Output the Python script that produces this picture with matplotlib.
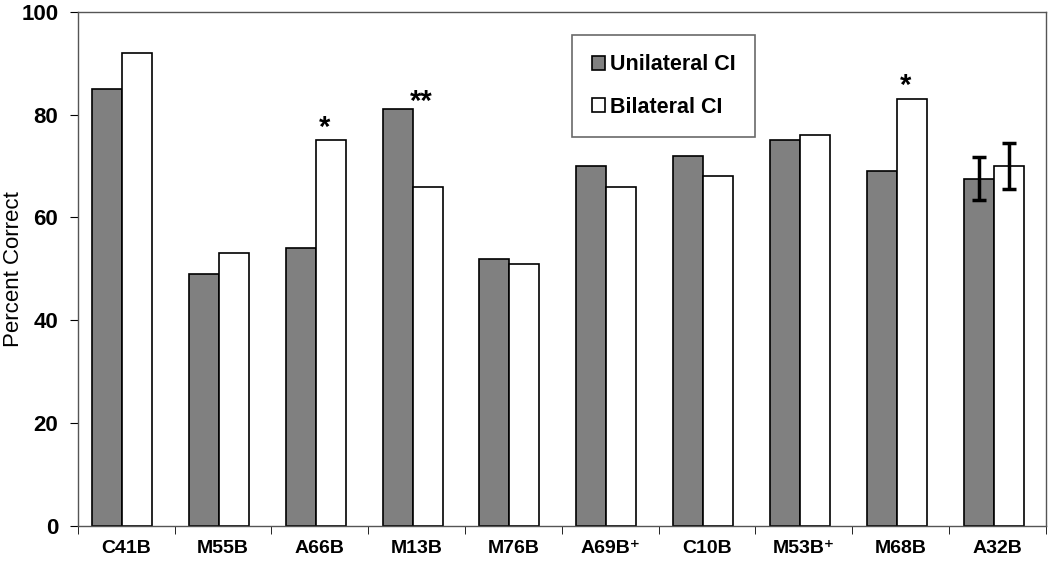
import numpy as np
import matplotlib
matplotlib.use("Agg")
import matplotlib.pyplot as plt

plt.rcParams['font.family'] = ['Liberation Sans', 'DejaVu Sans']

subjects = ["C41B", "M55B", "A66B", "M13B", "M76B", "A69B\u207a", "C10B", "M53B\u207a", "M68B", "A32B"]
unilateral = [85, 49, 54, 81, 52, 70, 72, 75, 69, 67.5]
bilateral = [92, 53, 75, 66, 51, 66, 68, 76, 83, 70]
# error bars only for the group mean (A32B)
uni_err = [0, 0, 0, 0, 0, 0, 0, 0, 0, 4.2]
bi_err = [0, 0, 0, 0, 0, 0, 0, 0, 0, 4.4]
# significance marks: (subject index, text, y)
marks = [(2, "*", 77.5), (3, "**", 82.5), (8, "*", 85.5)]

fig = plt.figure(figsize=(10.5, 5.63), dpi=100)
ax = fig.add_axes([0.074, 0.066, 0.922, 0.913])

x = np.arange(len(subjects))
w = 0.31
ax.bar(x - w / 2 - 0.04, unilateral, w, color="#808080", edgecolor="black", linewidth=1.2,
       label="Unilateral CI")
ax.bar(x + w / 2 - 0.04, bilateral, w, color="white", edgecolor="black", linewidth=1.2,
       label="Bilateral CI")

i = len(subjects) - 1
ax.errorbar(x[i] - w / 2 - 0.04, unilateral[i], yerr=uni_err[i], fmt="none", ecolor="black",
            elinewidth=2.5, capsize=5, capthick=2.5)
ax.errorbar(x[i] + w / 2 - 0.04, bilateral[i], yerr=bi_err[i], fmt="none", ecolor="black",
            elinewidth=2.5, capsize=5, capthick=2.5)

for idx, txt, yy in marks:
    ax.text(x[idx] + 0.05, yy, txt, ha="center", va="center", fontsize=21, fontweight="bold")

ax.set_xlim(-0.5, len(subjects) - 0.5)
ax.set_ylim(0, 100)
ax.set_yticks([0, 20, 40, 60, 80, 100])
ax.set_ylabel("Percent Correct", fontsize=16)
ax.yaxis.set_label_coords(-0.055, 0.5)
ax.set_xticks(x)
ax.set_xticklabels(subjects, fontsize=14, fontweight="bold")
ax.tick_params(axis="x", length=0, pad=10)
ax.set_xticks(np.arange(len(subjects) + 1) - 0.5, minor=True)
ax.tick_params(axis="x", which="minor", length=6, direction="out")
ax.tick_params(axis="y", labelsize=16, length=6, direction="out", pad=8)
for lab in ax.get_yticklabels():
    lab.set_fontweight("bold")

for s in ax.spines.values():
    s.set_color("#555555")
    s.set_linewidth(1)

leg = ax.legend(loc="upper left", bbox_to_anchor=(0.511, 0.955), frameon=True, fancybox=False,
                edgecolor="#444444", prop={"weight": "bold", "size": 15.5},
                handlelength=0.6, handleheight=0.6, handletextpad=0.25,
                borderpad=0.9, labelspacing=1.0, borderaxespad=0)
leg.get_frame().set_linewidth(1.2)

fig.savefig("out.png", dpi=100)
